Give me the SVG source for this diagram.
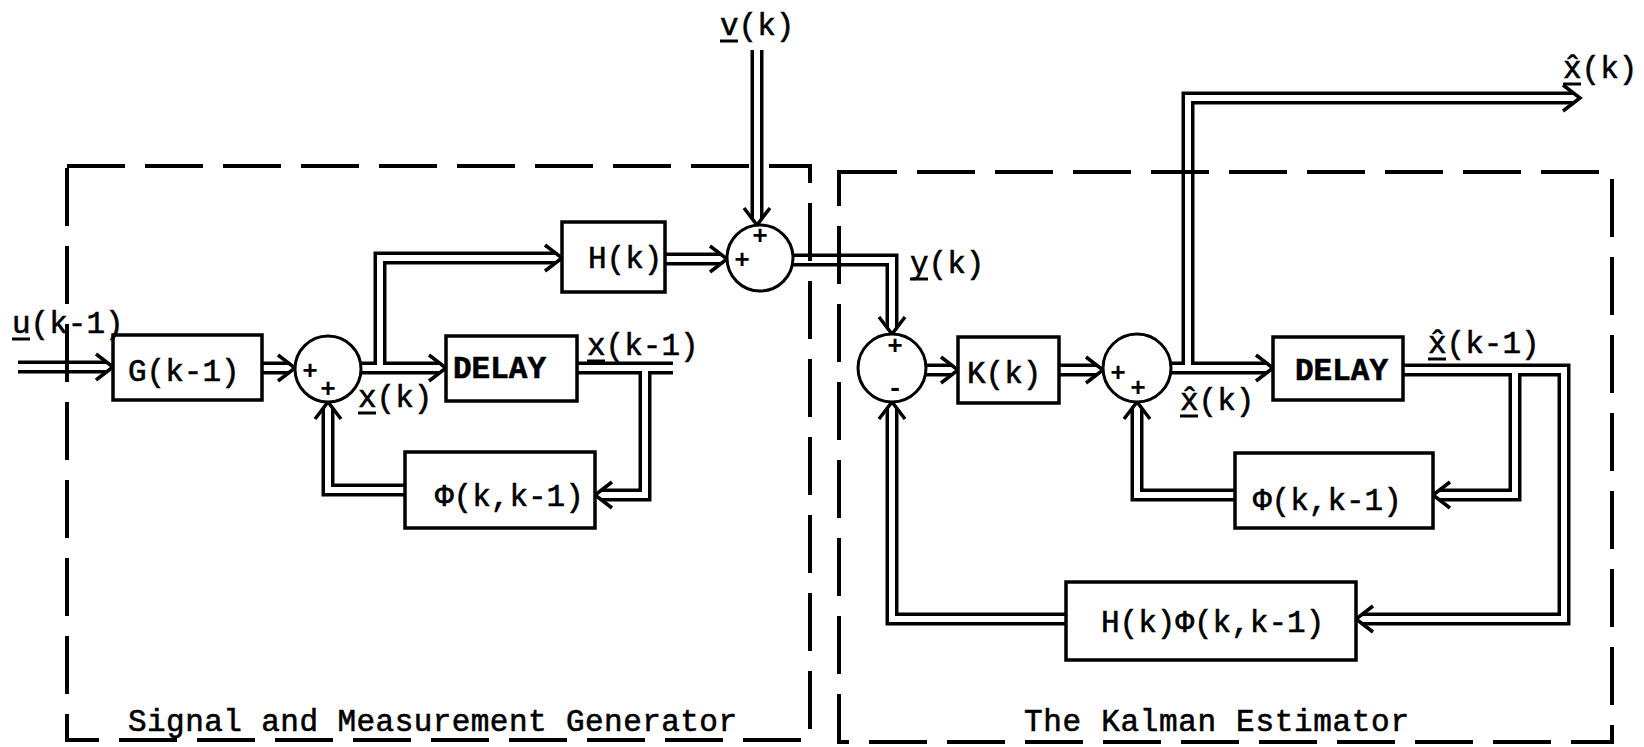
<svg xmlns="http://www.w3.org/2000/svg" width="1644" height="747" viewBox="0 0 1644 747">
<style>
.b{fill:none;stroke:#000;stroke-width:13;stroke-linejoin:miter;stroke-linecap:butt}
.w{fill:none;stroke:#fff;stroke-width:6;stroke-linejoin:miter;stroke-linecap:butt}
.box{fill:#fff;stroke:#000;stroke-width:3.5}
.sum{fill:#fff;stroke:#000;stroke-width:3}
.t{font-family:"Liberation Mono","DejaVu Sans Mono",monospace;font-size:31px;fill:#000;stroke:#000;stroke-width:0.6}
.bd{font-weight:bold}
.sg{font-family:"Liberation Mono","DejaVu Sans Mono",monospace;font-size:26px;font-weight:bold;fill:#000;text-anchor:middle}
.ul{stroke:#000;stroke-width:3}
.dash{fill:none;stroke:#000;stroke-width:4;stroke-dasharray:58 20}
</style>
<defs>
<marker id="ah" markerUnits="userSpaceOnUse" orient="auto" overflow="visible" refX="0" refY="0" markerWidth="1" markerHeight="1">
<path d="M-11,-13 L6,0 L-11,13" fill="none" stroke="#000" stroke-width="3.5"/>
</marker>
</defs>
<rect width="1644" height="747" fill="#fff"/>
<g id="connectors">
<path class="b" d="M18,367 H107"/>
<path class="b" d="M262,368 H289"/>
<path class="b" d="M361,368 H440"/>
<path class="b" d="M380,368 V258 H556"/>
<path class="b" d="M665,259 H721"/>
<path class="b" d="M757,50 V219"/>
<path class="b" d="M793,260 H892 V328"/>
<path class="b" d="M926,370 H952"/>
<path class="b" d="M1059,370 H1097"/>
<path class="b" d="M1171,368 H1267"/>
<path class="b" d="M1188,368 V98 H1574"/>
<path class="b" d="M1403,370 H1564 V619 H1362"/>
<path class="b" d="M1515,370 V495 H1439"/>
<path class="b" d="M1235,495 H1137 V408"/>
<path class="b" d="M1066,619 H892 V408"/>
<path class="b" d="M405,490 H328 V408"/>
<path class="b" d="M577,368 H673"/>
<path class="b" d="M645,368 V495 H601"/>
<path class="w" d="M18,367 H107" marker-end="url(#ah)"/>
<path class="w" d="M262,368 H289" marker-end="url(#ah)"/>
<path class="w" d="M361,368 H440" marker-end="url(#ah)"/>
<path class="w" d="M380,368 V258 H556" marker-end="url(#ah)"/>
<path class="w" d="M665,259 H721" marker-end="url(#ah)"/>
<path class="w" d="M757,50 V219" marker-end="url(#ah)"/>
<path class="w" d="M793,260 H892 V328" marker-end="url(#ah)"/>
<path class="w" d="M926,370 H952" marker-end="url(#ah)"/>
<path class="w" d="M1059,370 H1097" marker-end="url(#ah)"/>
<path class="w" d="M1171,368 H1267" marker-end="url(#ah)"/>
<path class="w" d="M1188,368 V98 H1574" marker-end="url(#ah)"/>
<path class="w" d="M1403,370 H1564 V619 H1362" marker-end="url(#ah)"/>
<path class="w" d="M1515,370 V495 H1439" marker-end="url(#ah)"/>
<path class="w" d="M1235,495 H1137 V408" marker-end="url(#ah)"/>
<path class="w" d="M1066,619 H892 V408" marker-end="url(#ah)"/>
<path class="w" d="M405,490 H328 V408" marker-end="url(#ah)"/>
<path class="w" d="M577,368 H673"/>
<path class="w" d="M645,368 V495 H601" marker-end="url(#ah)"/>
</g>
<g id="G">
<rect class="box" x="113" y="335" width="149" height="65"/>
<text class="t" x="128" y="381">G(k-1)</text>
</g>
<g id="S1">
<circle class="sum" cx="328" cy="369" r="33"/>
<text class="sg" x="310" y="379">+</text>
<text class="sg" x="328" y="397">+</text>
</g>
<g id="DELAY1">
<rect class="box" x="446" y="336" width="131" height="65"/>
<text class="t bd" x="453" y="378">DELAY</text>
</g>
<g id="H">
<rect class="box" x="562" y="222" width="103" height="70"/>
<text class="t" x="588" y="268">H(k)</text>
</g>
<g id="S2">
<circle class="sum" cx="760" cy="258" r="33"/>
<text class="sg" x="742" y="268">+</text>
<text class="sg" x="760" y="244">+</text>
</g>
<g id="PHI1">
<rect class="box" x="405" y="452" width="190" height="76"/>
<text class="t" x="435" y="506">Φ(k,k-1)</text>
</g>
<g id="S3">
<circle class="sum" cx="892" cy="368" r="34"/>
<text class="sg" x="895" y="354">+</text>
<text class="sg" x="895" y="396">-</text>
</g>
<g id="K">
<rect class="box" x="958" y="337" width="101" height="66"/>
<text class="t" x="967" y="383">K(k)</text>
</g>
<g id="S4">
<circle class="sum" cx="1137" cy="368" r="34"/>
<text class="sg" x="1118" y="381">+</text>
<text class="sg" x="1138" y="396">+</text>
</g>
<g id="DELAY2">
<rect class="box" x="1273" y="337" width="130" height="63"/>
<text class="t bd" x="1295" y="380">DELAY</text>
</g>
<g id="PHI2">
<rect class="box" x="1235" y="453" width="198" height="75"/>
<text class="t" x="1253" y="510">Φ(k,k-1)</text>
</g>
<g id="HPHI">
<rect class="box" x="1066" y="582" width="290" height="78"/>
<text class="t" x="1101" y="632">H(k)Φ(k,k-1)</text>
</g>
<g id="labels">
<text class="t" x="12" y="333">u(k-1)</text>
<line class="ul" x1="12" y1="339" x2="30" y2="339"/>
<text class="t" x="358" y="407">x(k)</text>
<line class="ul" x1="358" y1="413" x2="376" y2="413"/>
<text class="t" x="587" y="355">x(k-1)</text>
<line class="ul" x1="587" y1="361" x2="605" y2="361"/>
<text class="t" x="720" y="35">v(k)</text>
<line class="ul" x1="720" y1="41" x2="738" y2="41"/>
<text class="t" x="910" y="273">y(k)</text>
<line class="ul" x1="910" y1="279" x2="928" y2="279"/>
<text class="t" x="1180" y="410">x̂(k)</text>
<line class="ul" x1="1180" y1="416" x2="1198" y2="416"/>
<text class="t" x="1428" y="353">x̂(k-1)</text>
<line class="ul" x1="1428" y1="359" x2="1446" y2="359"/>
<text class="t" x="1563" y="78">x̂(k)</text>
<line class="ul" x1="1563" y1="84" x2="1581" y2="84"/>
</g>
<g id="groups">
<path class="dash" d="M67,166 H810 V740 H67 Z"/>
<path class="dash" d="M839,172 H1612 V742 H839 Z"/>
<text class="t" x="128" y="731" textLength="609">Signal and Measurement Generator</text>
<text class="t" x="1024" y="731" textLength="385">The Kalman Estimator</text>
</g>
</svg>
